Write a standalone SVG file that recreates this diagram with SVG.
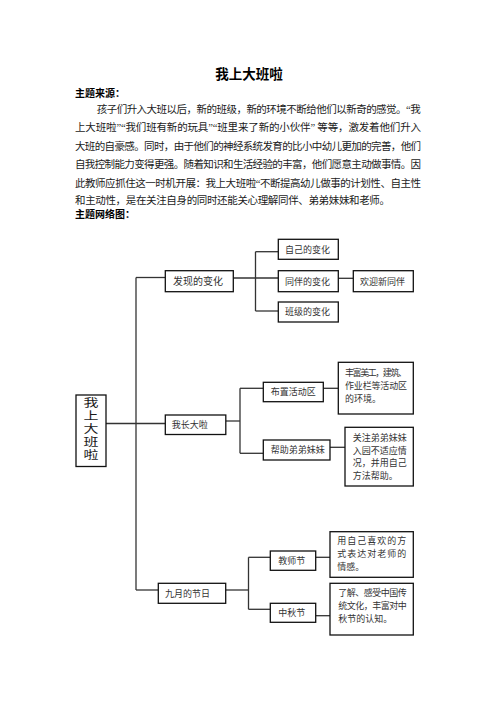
<svg xmlns="http://www.w3.org/2000/svg" width="496" height="702" viewBox="0 0 496 702">
<style>
.bg{fill:#ffffff}
.t{font-family:'Liberation Serif','Noto Sans CJK SC',serif;fill:#1a1a1a}
.h{font-family:'Noto Sans CJK SC',sans-serif;font-weight:bold;fill:#000}
.body{font-size:10.5px}
.box{fill:#ffffff;stroke:#111;stroke-width:1.3}
.lbl{font-family:'Liberation Serif','Noto Sans CJK SC',serif;font-size:9px;fill:#333}
.conn{fill:none;stroke:#333;stroke-width:1.3}
</style>
<rect class="bg" x="0" y="0" width="496" height="702"/>

<g id="header">
<text class="h" x="249" y="79" font-size="13.5" text-anchor="middle">我上大班啦</text>
<text class="h" x="75" y="97.3" font-size="10">主题来源：</text>
<text class="t body" x="96.7" y="113" textLength="324" lengthAdjust="spacing">孩子们升入大班以后，新的班级，新的环境不断给他们以新奇的感觉。“我</text>
<text class="t body" x="75" y="131.3" textLength="346" lengthAdjust="spacing">上大班啦”“我们班有新的玩具”“班里来了新的小伙伴” 等等，激发着他们升入</text>
<text class="t body" x="75" y="150" textLength="346" lengthAdjust="spacing">大班的自豪感。同时，由于他们的神经系统发育的比小中幼儿更加的完善，他们</text>
<text class="t body" x="75" y="168" textLength="346" lengthAdjust="spacing">自我控制能力变得更强。随着知识和生活经验的丰富，他们愿意主动做事情。因</text>
<text class="t body" x="75" y="186.7" textLength="346" lengthAdjust="spacing">此教师应抓住这一时机开展：我上大班啦“不断提高幼儿做事的计划性、自主性</text>
<text class="t body" x="75" y="204" textLength="315" lengthAdjust="spacing">和主动性，是在关注自身的同时还能关心理解同伴、弟弟妹妹和老师。</text>
<text class="h" x="75" y="218.3" font-size="10">主题网络图：</text>
</g>

<g id="connectors">
<path class="conn" d="M106,423.5 H165"/>
<path class="conn" d="M136,277.5 V590"/>
<path class="conn" d="M136,277.5 H165"/>
<path class="conn" d="M136,590 H158"/>
<path class="conn" d="M233,278 H278"/>
<path class="conn" d="M255.5,251.7 V311"/>
<path class="conn" d="M255.5,251.7 H278"/>
<path class="conn" d="M255.5,311 H278"/>
<path class="conn" d="M338,278.3 H353"/>
<path class="conn" d="M226,421 H240"/>
<path class="conn" d="M240,388.3 V453.3"/>
<path class="conn" d="M240,388.3 H263"/>
<path class="conn" d="M240,453.3 H263"/>
<path class="conn" d="M323,388.3 H338"/>
<path class="conn" d="M330,447.3 H345"/>
<path class="conn" d="M226,590 H248.5"/>
<path class="conn" d="M248.5,557.3 V609.3"/>
<path class="conn" d="M248.5,557.3 H270"/>
<path class="conn" d="M248.5,609.3 H270"/>
<path class="conn" d="M316,557.3 H330"/>
<path class="conn" d="M316,615.7 H330"/>
</g>

<g id="root">
<rect class="box" x="76" y="395" width="30" height="71.5"/>
<g transform="translate(91,0) scale(1.3,1) translate(-91,0)">
<text class="t" font-size="11.5" text-anchor="middle" fill="#111" x="91" y="407.5">我</text>
<text class="t" font-size="11.5" text-anchor="middle" fill="#111" x="91" y="420.3">上</text>
<text class="t" font-size="11.5" text-anchor="middle" fill="#111" x="91" y="433.1">大</text>
<text class="t" font-size="11.5" text-anchor="middle" fill="#111" x="91" y="445.9">班</text>
<text class="t" font-size="11.5" text-anchor="middle" fill="#111" x="91" y="458.7">啦</text>
</g>
</g>

<g id="faxian">
<rect class="box" x="165.3" y="270.7" width="68" height="21"/>
<text class="lbl" x="173" y="285" style="font-size:10px">发现的变化</text>
</g>
<g id="ziji">
<rect class="box" x="278.3" y="239.3" width="60" height="20"/>
<text class="lbl" x="285" y="252.7">自己的变化</text>
</g>
<g id="tongban">
<rect class="box" x="278.3" y="270.7" width="60" height="21"/>
<text class="lbl" x="285" y="284.6">同伴的变化</text>
</g>
<g id="huanying">
<rect class="box" x="353.3" y="270.7" width="60" height="21"/>
<text class="lbl" x="360" y="284.6">欢迎新同伴</text>
</g>
<g id="banji">
<rect class="box" x="278.3" y="302" width="60" height="20"/>
<text class="lbl" x="285" y="315.4">班级的变化</text>
</g>

<g id="zhangda">
<rect class="box" x="165.3" y="415" width="60.5" height="19.5"/>
<text class="lbl" x="171.7" y="428">我长大啦</text>
</g>
<g id="buzhi">
<rect class="box" x="263.3" y="382.3" width="60" height="19.4"/>
<text class="lbl" x="270.7" y="395.4">布置活动区</text>
</g>
<g id="fengfu">
<rect class="box" x="338.3" y="362.3" width="75" height="51.7"/>
<text class="lbl"><tspan x="345" y="375.8" textLength="62" lengthAdjust="spacing">丰富美工，建筑、</tspan><tspan x="345" y="388.8" textLength="62" lengthAdjust="spacing">作业栏等活动区</tspan><tspan x="345" y="401.8">的环境。</tspan></text>
</g>
<g id="bangzhu">
<rect class="box" x="263.3" y="440" width="66.7" height="20"/>
<text class="lbl" x="270.7" y="453.4">帮助弟弟妹妹</text>
</g>
<g id="guanzhu">
<rect class="box" x="345" y="427.3" width="68.3" height="58.7"/>
<text class="lbl"><tspan x="352.7" y="441">关注弟弟妹妹</tspan><tspan x="352.7" y="453.7">入园不适应情</tspan><tspan x="352.7" y="466.4">况，并用自己</tspan><tspan x="352.7" y="479.1">方法帮助。</tspan></text>
</g>

<g id="jieri">
<rect class="box" x="158.3" y="583.3" width="67.4" height="20"/>
<text class="lbl" x="165" y="596.7">九月的节日</text>
</g>
<g id="jiaoshi">
<rect class="box" x="270.3" y="551" width="45.4" height="19.3"/>
<text class="lbl" x="278.3" y="564">教师节</text>
</g>
<g id="yongziji">
<rect class="box" x="330" y="531.7" width="83.3" height="45.6"/>
<text class="lbl"><tspan x="337.3" y="544.4" textLength="69" lengthAdjust="spacing">用自己喜欢的方</tspan><tspan x="337.3" y="557.2" textLength="69" lengthAdjust="spacing">式表达对老师的</tspan><tspan x="337.3" y="570">情感。</tspan></text>
</g>
<g id="zhongqiu">
<rect class="box" x="270.3" y="603.3" width="45.4" height="19"/>
<text class="lbl" x="278.3" y="616.2">中秋节</text>
</g>
<g id="liaojie">
<rect class="box" x="330" y="583.3" width="83.3" height="51.7"/>
<text class="lbl"><tspan x="338.3" y="596.1" textLength="68.5" lengthAdjust="spacing">了解、感受中国传</tspan><tspan x="338.3" y="609" textLength="68.5" lengthAdjust="spacing">统文化，丰富对中</tspan><tspan x="338.3" y="622">秋节的认知。</tspan></text>
</g>
</svg>
